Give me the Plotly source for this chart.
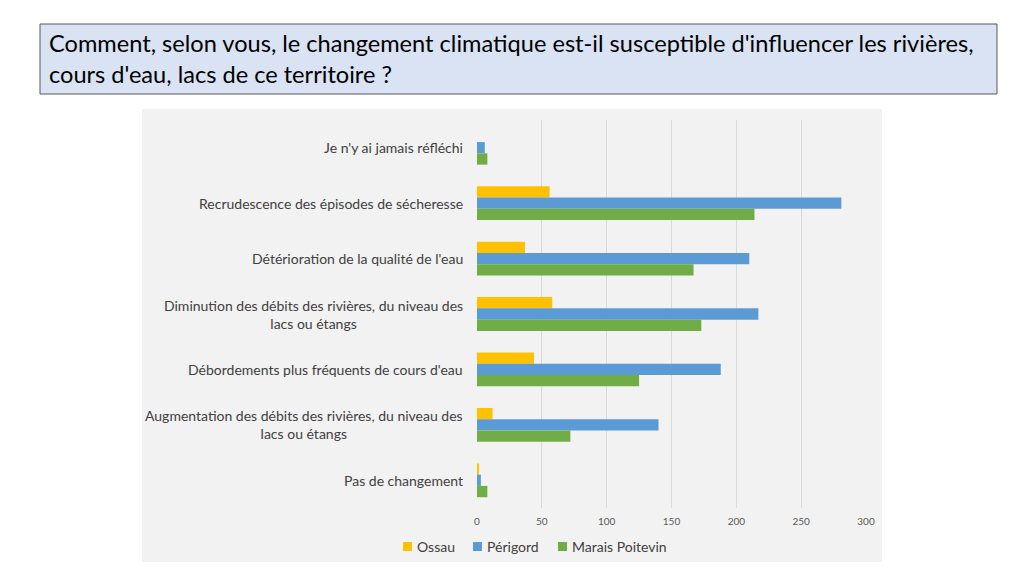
import plotly.graph_objects as go

categories = [
    "Je n'y ai jamais réfléchi",
    "Recrudescence des épisodes de sécheresse",
    "Détérioration de la qualité de l'eau",
    "Diminution des débits des rivières, du niveau des<br>lacs ou étangs",
    "Débordements plus fréquents de cours d'eau",
    "Augmentation des débits des rivières, du niveau des<br>lacs ou étangs",
    "Pas de changement",
]
ossau = [0, 56, 37, 58, 44, 12, 1]
perigord = [6, 281, 210, 217, 188, 140, 3]
marais = [8, 214, 167, 173, 125, 72, 8]
x_ticks = [0, 50, 100, 150, 200, 250, 300]
series_names = ["Ossau", "Périgord", "Marais Poitevin"]
series_colors = ["#FFC000", "#5B9BD5", "#70AD47"]

title_text = ("Comment, selon vous, le changement climatique est-il susceptible d'influencer les rivières,<br>"
              "cours d'eau, lacs de ce territoire ?")

FONT = "Lato, 'Open Sans', sans-serif"

fig = go.Figure()
for name, vals, col in zip(series_names, [ossau, perigord, marais], series_colors):
    fig.add_trace(go.Bar(y=categories, x=vals, name=name, orientation="h",
                         marker=dict(color=col, line=dict(width=0)), showlegend=False))

# page has an 8px body margin; work in screen pixels and convert
OFF = 8
W, H = 1024, 576
SL, SR, ST, SB = 477, 866, 120, 508   # plot area in screen px
L, T = SL - OFF, ST - OFF
R, B = W - (SR - OFF), H - (SB - OFF)
pw, ph = W - L - R, H - T - B

def px(x):
    return (x - OFF - L) / pw

def py(y):
    return (H - B - (y - OFF)) / ph

shapes = [
    dict(type="rect", xref="paper", yref="paper", x0=px(142), x1=px(882),
         y0=py(562), y1=py(109), fillcolor="#F2F2F2", line=dict(width=0), layer="below"),
    dict(type="rect", xref="paper", yref="paper", x0=px(40), x1=px(997),
         y0=py(94), y1=py(24), fillcolor="#DAE3F3", line=dict(color="#595959", width=1),
         layer="below"),
]

fig.update_layout(
    width=W, height=H,
    margin=dict(l=L, r=R, t=T, b=B),
    paper_bgcolor="white",
    plot_bgcolor="#F2F2F2",
    barmode="group",
    bargap=0.39,
    bargroupgap=0,
    font=dict(family=FONT, color="#404040"),
    xaxis=dict(range=[0, 300], tickvals=x_ticks, showgrid=True, gridcolor="#D9D9D9",
               gridwidth=1, zeroline=False, showline=False,
               tickfont=dict(size=10, color="#595959"), ticks="", ticklabelstandoff=6),
    yaxis=dict(autorange="reversed", showticklabels=False, showgrid=False,
               zeroline=False, showline=False, ticks=""),
    showlegend=False,
)

for c in categories:
    fig.add_annotation(x=0, xref="paper", y=c, yref="y", text=c, showarrow=False,
                       xanchor="right", align="center", xshift=-12,
                       font=dict(size=14, color="#404040"))

# custom legend
leg_x = [403, 473, 558]
for name, col, lx in zip(series_names, series_colors, leg_x):
    shapes.append(dict(type="rect", xref="paper", yref="paper", x0=px(lx), x1=px(lx + 9),
                       y0=py(551), y1=py(542), fillcolor=col, line=dict(width=0)))
    fig.add_annotation(x=px(lx + 12), xref="paper", y=py(546.5), yref="paper", text=name,
                       showarrow=False, xanchor="left", yanchor="middle",
                       font=dict(size=14, color="#404040"))

fig.update_layout(shapes=shapes)

fig.add_annotation(x=px(47), xref="paper", y=py(59), yref="paper", text=title_text,
                   showarrow=False, xanchor="left", yanchor="middle", align="left",
                   font=dict(size=23.6, color="#000000", family=FONT))

fig.write_html("out.html")
